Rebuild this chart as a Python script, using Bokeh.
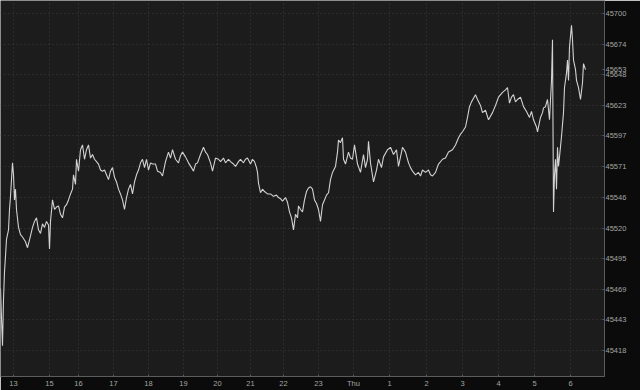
from bokeh.plotting import figure
from bokeh.models import Range1d, FixedTicker
from bokeh.embed import file_html
from bokeh.resources import INLINE

# bar index (chart bar number) and price
bar = [0, 1, 2, 3, 4, 5, 6, 8, 9, 10, 11, 12, 13, 14, 15, 16, 18, 20, 22, 25, 27, 30, 32, 34, 36, 38,
       40, 42, 44, 46, 48, 49, 50, 52, 54, 56, 58, 60, 62, 64, 66, 68, 70, 72, 73, 75, 76, 78,
       80, 82, 84, 86, 88, 90, 92, 94, 96, 98, 100, 102, 104, 106, 108, 110, 112, 114, 116, 118,
       120, 122, 124, 126, 128, 130, 132, 134, 136, 138, 140, 142, 144, 146, 148, 150, 152, 155,
       157, 160, 162, 165, 168, 170, 172, 175, 178, 180, 182, 185, 188, 191, 193, 195, 197, 200,
       203, 205, 207, 210, 212, 215, 218, 220, 223, 225, 228, 230, 233, 235, 238, 240, 243, 245,
       247, 250, 252, 254, 256, 257, 258, 260, 262, 264, 267, 270, 273, 276, 278, 280, 282, 285,
       287, 289, 291, 293, 295, 297, 298, 300, 302, 304, 306, 308, 310, 312, 314, 316, 318, 320,
       322, 324, 326, 328, 330, 332, 335, 337, 338, 340, 342, 343, 345, 348, 350, 352, 354, 357,
       360, 363, 365, 367, 368, 370, 373, 376, 378, 381, 383, 387, 390, 393, 396, 398, 402, 405,
       408, 410, 412, 415, 418, 420, 422, 425, 428, 430, 432, 435, 438, 442, 445, 448, 452, 455,
       458, 460, 462, 465, 467, 469, 471, 473, 475, 477, 480, 482, 485, 488, 492, 495, 498, 502,
       505, 507, 509, 511, 513, 515, 517, 520, 523, 526, 529, 531, 533, 536, 537, 539, 540, 542,
       543, 545, 547, 549, 551, 552, 553, 554, 555, 556, 557, 558, 559, 561, 563, 564, 566, 567,
       568, 569, 571, 572, 573, 575, 576, 578, 580, 582, 583, 585]
price = [45470, 45445, 45422, 45461, 45484, 45497, 45511, 45519, 45536, 45547, 45561, 45575, 45565,
         45544, 45553, 45536, 45521, 45515, 45513, 45509, 45504, 45514, 45521, 45526, 45529, 45519,
         45516, 45524, 45521, 45526, 45523, 45503, 45526, 45544, 45536, 45538, 45539, 45532, 45529,
         45538, 45540, 45544, 45549, 45553, 45565, 45557, 45578, 45568, 45586, 45590, 45578, 45586,
         45590, 45579, 45582, 45578, 45576, 45574, 45569, 45568, 45569, 45565, 45561, 45568, 45571,
         45563, 45559, 45553, 45549, 45544, 45536, 45546, 45553, 45557, 45549, 45559, 45565, 45569,
         45575, 45578, 45571, 45578, 45569, 45575, 45574, 45574, 45568, 45567, 45564, 45576, 45584,
         45579, 45586, 45578, 45575, 45581, 45584, 45580, 45575, 45571, 45568, 45574, 45575, 45582,
         45588, 45584, 45582, 45575, 45568, 45579, 45578, 45576, 45579, 45575, 45578, 45576, 45574,
         45572, 45576, 45578, 45575, 45578, 45579, 45574, 45578, 45576, 45571, 45567, 45558, 45550,
         45553, 45551, 45549, 45549, 45547, 45548, 45546, 45545, 45543, 45546, 45542, 45534, 45529,
         45519, 45532, 45529, 45539, 45536, 45534, 45544, 45551, 45554, 45555, 45553, 45544, 45541,
         45536, 45526, 45540, 45544, 45548, 45550, 45561, 45567, 45572, 45584, 45594, 45592, 45596,
         45578, 45574, 45584, 45579, 45578, 45590, 45574, 45567, 45582, 45571, 45578, 45593, 45575,
         45559, 45569, 45578, 45571, 45580, 45586, 45588, 45582, 45586, 45572, 45588, 45584, 45575,
         45571, 45568, 45565, 45567, 45564, 45569, 45567, 45569, 45565, 45564, 45567, 45574, 45578,
         45579, 45584, 45586, 45590, 45596, 45599, 45601, 45605, 45613, 45622, 45626, 45629, 45632,
         45628, 45623, 45617, 45619, 45611, 45617, 45623, 45630, 45634, 45636, 45638, 45625, 45630,
         45632, 45626, 45628, 45630, 45622, 45618, 45613, 45618, 45611, 45605, 45601, 45609, 45613,
         45617, 45621, 45622, 45628, 45611, 45644, 45678, 45534, 45565, 45578, 45553, 45588, 45572,
         45580, 45597, 45617, 45638, 45650, 45661, 45644, 45672, 45690, 45678, 45661, 45653, 45644,
         45638, 45628, 45642, 45658, 45653]

x_tick_bars = [13, 49, 78, 113, 148, 183, 217, 250, 283, 318, 353, 389, 426, 462, 498, 534, 570]
x_tick_labels = ["13", "15", "16", "17", "18", "19", "20", "21", "22", "23", "Thu",
                 "1", "2", "3", "4", "5", "6"]
y_ticks = [45418.0, 45443.6, 45469.3, 45494.9, 45520.5, 45546.2, 45571.8, 45597.5,
           45623.1, 45648.7, 45674.4, 45700.0]
y_tick_labels = ["45418", "45443", "45469", "45495", "45520", "45546", "45571", "45597",
                 "45623", "45648", "45674", "45700"]
last_price = 45653

FONT = "Liberation Sans"
W, H = 640, 390
FRAME_W, FRAME_H = 604, 378
Y0, Y1 = 45396.3, 45710.8

p = figure(width=W, height=H, output_backend="svg", toolbar_location=None,
           x_range=Range1d(0, FRAME_W), y_range=Range1d(Y0, Y1),
           y_axis_location="right",
           min_border_left=0, min_border_top=0, min_border_right=W - FRAME_W,
           min_border_bottom=H - FRAME_H,
           background_fill_color="#1c1c1c", border_fill_color="#0b0b0b",
           outline_line_color=None)

p.line(bar, price, line_color="#d2d2d2", line_width=1.1)

# axes
for ax in (p.xaxis[0], p.yaxis[0]):
    ax.axis_line_color = "#5c5c5c"
    ax.major_tick_line_color = "#5c5c5c"
    ax.minor_tick_line_color = None
    ax.major_label_text_color = "#a4a4a4"
    ax.major_label_text_font = FONT
    ax.major_label_text_font_size = "7.5px"
    ax.major_tick_in = 2
    ax.major_tick_out = 0
    ax.major_label_standoff = 2

p.xaxis.ticker = FixedTicker(ticks=x_tick_bars)
p.xaxis.major_label_overrides = {t: l for t, l in zip(x_tick_bars, x_tick_labels)}
p.xaxis.major_label_text_align = "left"

# price axis: regular levels plus the last-price tag
axis_ticks = y_ticks + [float(last_price)]
axis_labels = y_tick_labels + [str(last_price)]
p.yaxis.ticker = FixedTicker(ticks=axis_ticks)
p.yaxis.major_label_overrides = {t: l for t, l in zip(axis_ticks, axis_labels)}
p.yaxis.major_label_standoff = 1

p.xgrid.ticker = FixedTicker(ticks=x_tick_bars)
p.ygrid.ticker = FixedTicker(ticks=y_ticks)
p.grid.grid_line_color = "#3c3c3c"
p.grid.grid_line_dash = "1 3"
p.grid.grid_line_width = 1

open("out.html", "w").write(file_html(p, INLINE))
